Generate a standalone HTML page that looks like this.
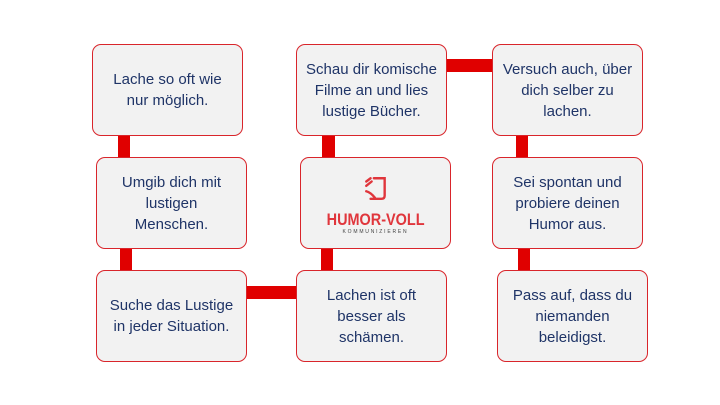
<!DOCTYPE html>
<html><head><meta charset="utf-8"><style>
body{margin:0;width:720px;height:405px;background:#fff;position:relative;overflow:hidden;font-family:"Liberation Sans",sans-serif}
.b{position:absolute;box-sizing:border-box;border:1.5px solid #d9252b;border-radius:9px;background:#f2f2f2;display:flex;align-items:center;justify-content:center;text-align:center;color:#1f3467;font-size:15px;line-height:21px;width:151px;height:92px;padding:0 4px}
.c{position:absolute;background:#e00000}
</style></head><body>
<div class="c" style="left:118px;top:130px;width:12px;height:30px"></div>
<div class="c" style="left:120px;top:243px;width:12px;height:30px"></div>
<div class="c" style="left:242px;top:286px;width:58px;height:13px"></div>
<div class="c" style="left:322px;top:130px;width:13px;height:30px"></div>
<div class="c" style="left:321px;top:243px;width:12px;height:30px"></div>
<div class="c" style="left:443px;top:59px;width:53px;height:13px"></div>
<div class="c" style="left:516px;top:130px;width:12px;height:30px"></div>
<div class="c" style="left:518px;top:243px;width:12px;height:30px"></div>

<div class="b" style="left:92px;top:44px">Lache so oft wie<br>nur möglich.</div>
<div class="b" style="left:96px;top:157px">Umgib dich mit<br>lustigen<br>Menschen.</div>
<div class="b" style="left:96px;top:270px">Suche das Lustige<br>in jeder Situation.</div>
<div class="b" style="left:296px;top:44px">Schau dir komische<br>Filme an und lies<br>lustige Bücher.</div>
<div class="b" style="left:300px;top:157px;flex-direction:column">
<svg width="26" height="26" viewBox="0 0 24 24" style="margin-top:4px"><g fill="none" stroke="#e0363c" stroke-width="2.2" stroke-linecap="round"><path d="M10 3h10v16q0 3-3 3H7"/><path d="M3 6l4-3M3 10l5-4M3 15q4 1 8 6"/></g></svg>
<div style="color:#e0363c;font-weight:bold;font-size:17px;line-height:18px;margin-top:10px;transform:scaleX(0.85)">HUMOR-VOLL</div>
<div style="color:#444;font-size:5px;letter-spacing:1.8px;line-height:6px">KOMMUNIZIEREN</div>
</div>
<div class="b" style="left:296px;top:270px">Lachen ist oft<br>besser als<br>schämen.</div>
<div class="b" style="left:492px;top:44px">Versuch auch, über<br>dich selber zu<br>lachen.</div>
<div class="b" style="left:492px;top:157px">Sei spontan und<br>probiere deinen<br>Humor aus.</div>
<div class="b" style="left:497px;top:270px">Pass auf, dass du<br>niemanden<br>beleidigst.</div>
</body></html>
